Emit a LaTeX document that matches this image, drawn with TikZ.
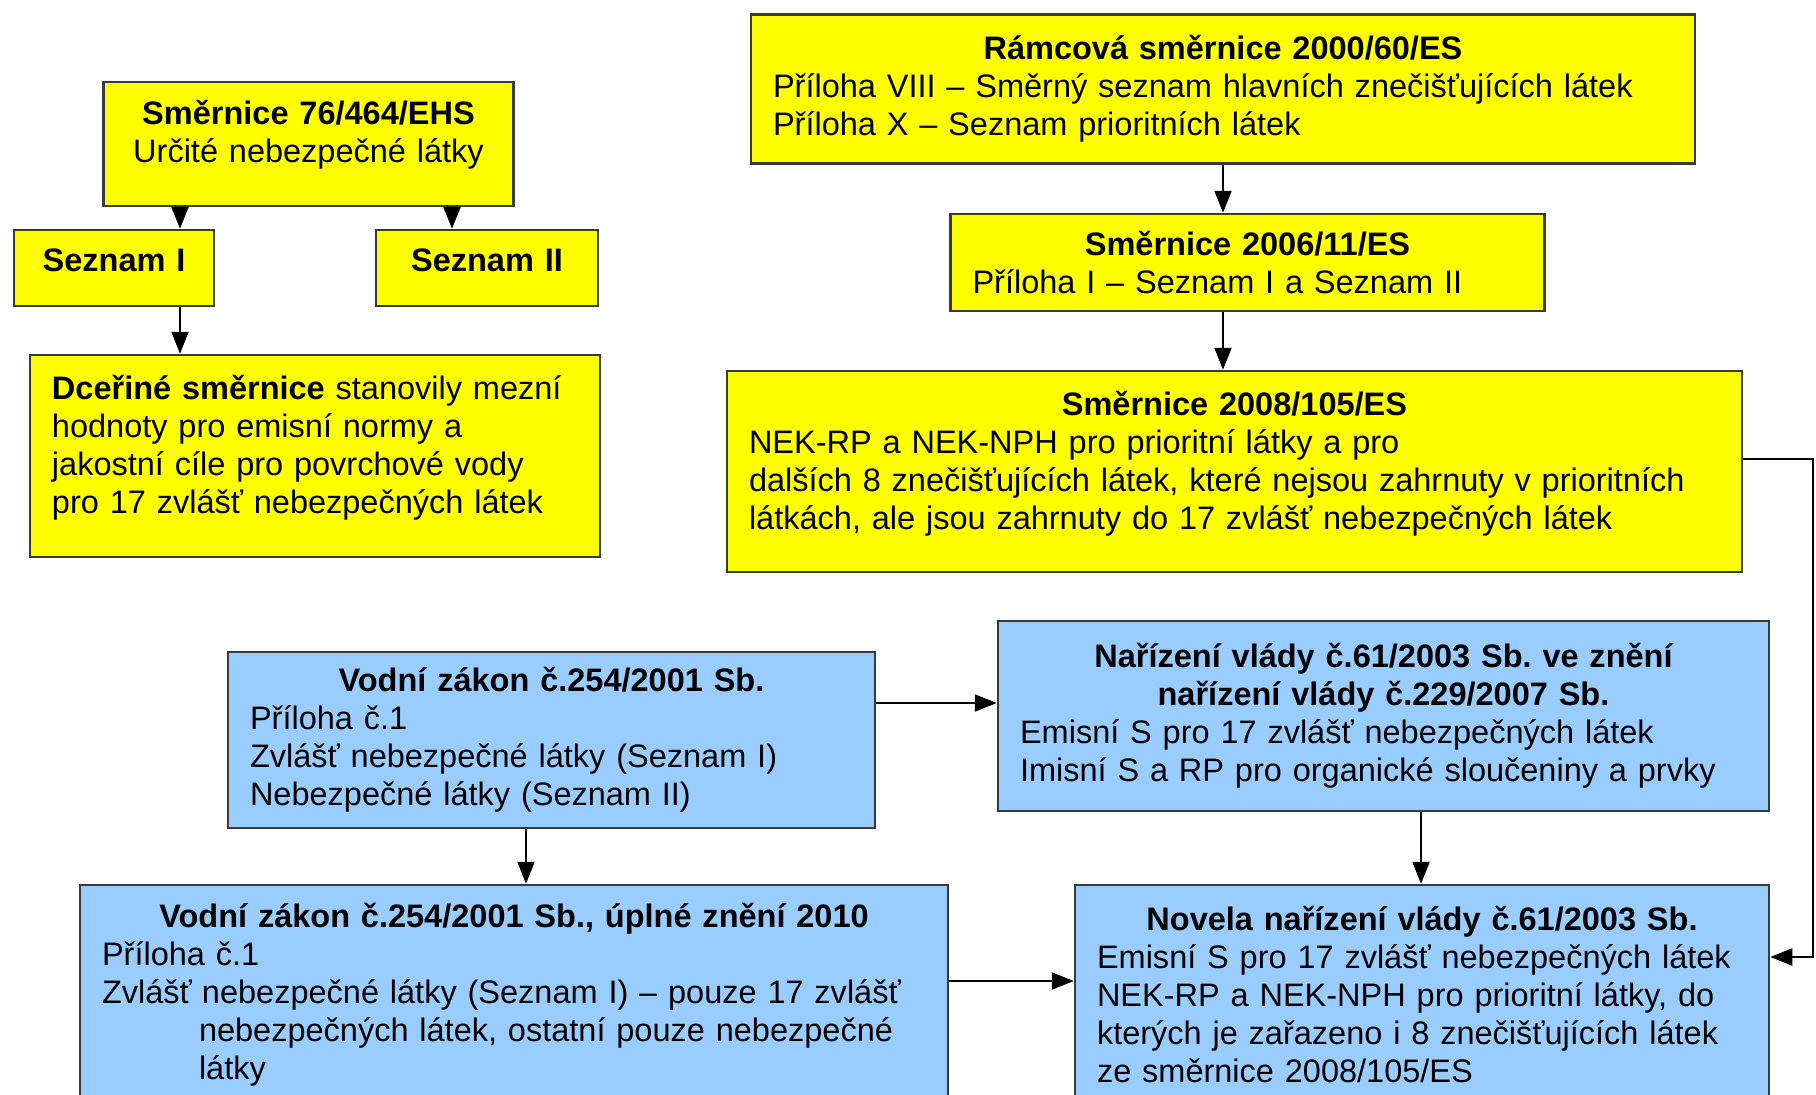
\documentclass[tikz,border=0pt]{standalone}
\usepackage{fontspec}
\setmainfont{Liberation Sans}
\usepackage{tikz}
\usetikzlibrary{positioning,arrows.meta,calc}

\definecolor{boxyellow}{HTML}{FFFF00}
\definecolor{boxblue}{HTML}{99CCFF}
\definecolor{boxline}{HTML}{3A3A3A}
\setlength{\parindent}{0pt}
\frenchspacing

\newcommand{\boxtitle}[1]{{\centering\textbf{#1}\par}}
\newcommand{\lift}[1]{\rule[-#1]{0pt}{0pt}}

\begin{document}
\begin{tikzpicture}[
    dirbox/.style={rectangle, draw=boxline, line width=0.7pt, fill=boxyellow, inner xsep=0.22cm, inner ysep=0.1cm, align=left, font=\fontsize{9.25}{10.8}\selectfont},
    lawbox/.style={dirbox, fill=boxblue},
    arrow/.style={-{Triangle[length=2.2mm,width=1.7mm]}, line width=0.6pt}
]
\useasboundingbox (0,0) rectangle (18.16,-10.94);

% EU directives
\node[dirbox, align=center, text width=3.66cm, minimum height=1.24cm] (s76) at (3.085,-1.44) {\textbf{Směrnice 76/464/EHS}\\Určité nebezpečné látky\lift{0.26cm}};
\node[dirbox, align=center, text width=1.56cm, minimum height=0.76cm, text depth=0.16cm] (sez1) at (1.14,-2.68) {\textbf{Seznam I}};
\node[dirbox, align=center, text width=1.78cm, minimum height=0.76cm, text depth=0.16cm] (sez2) at (4.87,-2.68) {\textbf{Seznam II}};
\node[dirbox, text width=5.26cm, minimum height=2.02cm] (dcer) at (3.15,-4.56) {\textbf{Dceřiné směrnice} stanovily mezní\\hodnoty pro emisní normy a\\jakostní cíle pro povrchové vody\\pro 17 zvlášť nebezpečných látek\lift{0.23cm}};

\node[dirbox, text width=9.00cm, minimum height=1.49cm] (ramc) at (12.23,-0.89) {\boxtitle{Rámcová směrnice 2000/60/ES}Příloha VIII – Směrný seznam hlavních znečišťujících látek\\Příloha X – Seznam prioritních látek};
\node[dirbox, text width=5.50cm, minimum height=0.97cm] (s2006) at (12.475,-2.625) {\boxtitle{Směrnice 2006/11/ES}Příloha I – Seznam I a Seznam II};
\node[dirbox, text width=9.71cm, minimum height=2.01cm] (s2008) at (12.345,-4.715) {\boxtitle{Směrnice 2008/105/ES}NEK-RP a NEK-NPH pro prioritní látky a pro\\dalších 8 znečišťujících látek, které nejsou zahrnuty v prioritních\\látkách, ale jsou zahrnuty do 17 zvlášť nebezpečných látek\lift{0.23cm}};

% Czech law
\node[lawbox, text width=6.03cm, minimum height=1.76cm] (vz254) at (5.515,-7.40) {\boxtitle{Vodní zákon č.254/2001 Sb.}Příloha č.1\\Zvlášť nebezpečné látky (Seznam I)\\Nebezpečné látky (Seznam II)};
\node[lawbox, text width=7.27cm, minimum height=1.90cm] (nv61) at (13.835,-7.16) {\boxtitle{Nařízení vlády č.61/2003 Sb. ve znění\\nařízení vlády č.229/2007 Sb.}Emisní S pro 17 zvlášť nebezpečných látek\\Imisní S a RP pro organické sloučeniny a prvky};
\node[lawbox, text width=8.24cm, minimum height=2.19cm] (vz2010) at (5.14,-9.945) {\boxtitle{Vodní zákon č.254/2001 Sb., úplné znění 2010}Příloha č.1\\
  \makebox[1.0cm][l]{Zvlášť}nebezpečné látky (Seznam I) – pouze 17 zvlášť\\\hspace*{0.97cm}nebezpečných látek, ostatní pouze nebezpečné\\\hspace*{0.97cm}látky};
\node[lawbox, text width=6.50cm, minimum height=2.19cm] (novela) at (14.22,-9.945) {\boxtitle{Novela nařízení vlády č.61/2003 Sb.}Emisní S pro 17 zvlášť nebezpečných látek\\NEK-RP a NEK-NPH pro prioritní látky, do\\kterých je zařazeno i 8 znečišťujících látek\\ze směrnice 2008/105/ES};

\coordinate (rt) at (18.13,0);

\draw[arrow] ([xshift=-12.85mm]s76.south) -- ([xshift=-12.85mm]s76.south |- sez1.north);
\draw[arrow] ([xshift=14.35mm]s76.south) -- ([xshift=14.35mm]s76.south |- sez2.north);
\draw[arrow] ([xshift=6.6mm]sez1.south) -- ([xshift=6.6mm]sez1.south |- dcer.north);
\draw[arrow] (ramc.south) -- (ramc.south |- s2006.north);
\draw[arrow] (s2006.south -| ramc.south) -- (ramc.south |- s2008.north);
\draw[arrow] ([yshift=1.25mm]s2008.east) -- ([yshift=1.25mm]s2008.east -| rt) -- ([yshift=3.75mm]novela.east -| rt) -- ([yshift=3.75mm]novela.east);
\draw[arrow] ([yshift=1.3mm]nv61.west -| vz254.east) -- ([yshift=1.3mm]nv61.west);
\draw[arrow] ([xshift=-2.55mm]vz254.south) -- ([xshift=-2.55mm]vz254.south |- vz2010.north);
\draw[arrow] ([xshift=3.75mm]nv61.south) -- ([xshift=3.75mm]nv61.south |- novela.north);
\draw[arrow] ([yshift=1.35mm]vz2010.east) -- ([yshift=1.35mm]vz2010.east -| novela.west);

\end{tikzpicture}
\end{document}
